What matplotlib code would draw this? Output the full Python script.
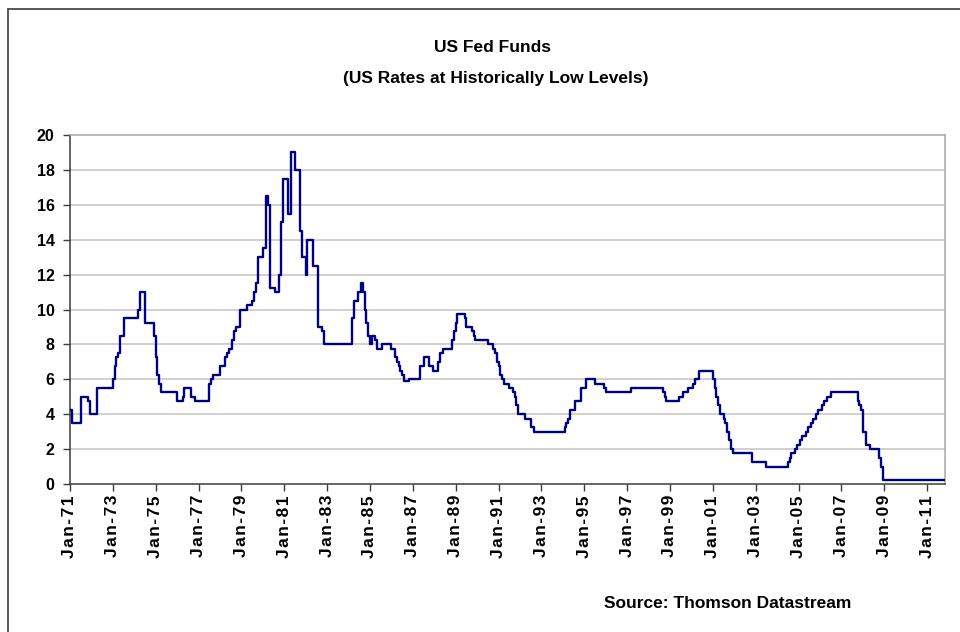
import matplotlib
matplotlib.use("Agg")
import matplotlib.pyplot as plt
from matplotlib.patches import Rectangle

# Fed funds rate: month of each change and the new level (%)
change_months = [
    "1971-01", "1971-02", "1971-07", "1971-11", "1971-12", "1972-04",
    "1973-01", "1973-02", "1973-03", "1973-04", "1973-05", "1973-07",
    "1974-03", "1974-04", "1974-07", "1974-12", "1975-01", "1975-02",
    "1975-03", "1975-04", "1976-01", "1976-04", "1976-05", "1976-09",
    "1976-11", "1977-07", "1977-08", "1977-09", "1978-01", "1978-04",
    "1978-05", "1978-06", "1978-08", "1978-09", "1978-10", "1978-12",
    "1979-04", "1979-07", "1979-08", "1979-09", "1979-10", "1980-01",
    "1980-03", "1980-04", "1980-05", "1980-08", "1980-10", "1980-11",
    "1980-12", "1981-03", "1981-05", "1981-07", "1981-10", "1981-11",
    "1982-01", "1982-02", "1982-05", "1982-08", "1982-10", "1982-11",
    "1984-03", "1984-04", "1984-06", "1984-08", "1984-09", "1984-10",
    "1984-11", "1984-12", "1985-01", "1985-02", "1985-04", "1985-05",
    "1985-08", "1986-01", "1986-03", "1986-04", "1986-05", "1986-06",
    "1986-07", "1986-08", "1986-11", "1987-05", "1987-07", "1987-10",
    "1987-12", "1988-03", "1988-04", "1988-06", "1988-11", "1988-12",
    "1989-01", "1989-02", "1989-06", "1989-07", "1989-10", "1989-11",
    "1989-12", "1990-07", "1990-10", "1990-11", "1990-12", "1991-01",
    "1991-02", "1991-03", "1991-04", "1991-07", "1991-09", "1991-10",
    "1991-11", "1991-12", "1992-04", "1992-07", "1992-09", "1994-02",
    "1994-03", "1994-04", "1994-05", "1994-08", "1994-11", "1995-02",
    "1995-07", "1995-12", "1996-01", "1997-03", "1998-09", "1998-10",
    "1998-11", "1999-06", "1999-08", "1999-11", "2000-02", "2000-03",
    "2000-05", "2001-01", "2001-02", "2001-03", "2001-04", "2001-05",
    "2001-07", "2001-08", "2001-09", "2001-10", "2001-11", "2001-12",
    "2002-11", "2003-07", "2004-07", "2004-08", "2004-09", "2004-11",
    "2004-12", "2005-02", "2005-03", "2005-05", "2005-06", "2005-08",
    "2005-09", "2005-11", "2005-12", "2006-02", "2006-03", "2006-05",
    "2006-07", "2007-10", "2007-11", "2007-12", "2008-01", "2008-03",
    "2008-05", "2008-10", "2008-11", "2008-12",
]
rates = [
    4.25, 3.5, 5.0, 4.75, 4.0, 5.5,
    6.0, 6.75, 7.25, 7.5, 8.5, 9.5,
    10.0, 11.0, 9.25, 8.5, 7.25, 6.25,
    5.75, 5.25, 4.75, 5.0, 5.5, 5.0,
    4.75, 5.75, 6.0, 6.25, 6.75, 7.25,
    7.5, 7.75, 8.25, 8.75, 9.0, 10.0,
    10.25, 10.5, 11.0, 11.5, 13.0, 13.5,
    16.5, 16.0, 11.25, 11.0, 12.0, 15.0,
    17.5, 15.5, 19.0, 18.0, 14.5, 13.0,
    12.0, 14.0, 12.5, 9.0, 8.75, 8.0,
    9.5, 10.5, 11.0, 11.5, 11.0, 10.0,
    9.25, 8.5, 8.0, 8.5, 8.25, 7.75,
    8.0, 7.75, 7.25, 7.0, 6.75, 6.5,
    6.25, 5.875, 6.0, 6.75, 7.25, 6.75,
    6.5, 7.0, 7.5, 7.75, 8.25, 8.75,
    9.25, 9.75, 9.5, 9.0, 8.75, 8.5,
    8.25, 8.0, 7.75, 7.5, 7.0, 6.75,
    6.25, 6.0, 5.75, 5.5, 5.25, 5.0,
    4.5, 4.0, 3.75, 3.25, 3.0, 3.25,
    3.5, 3.75, 4.25, 4.75, 5.5, 6.0,
    5.75, 5.5, 5.25, 5.5, 5.25, 5.0,
    4.75, 5.0, 5.25, 5.5, 5.75, 6.0,
    6.5, 6.0, 5.5, 5.0, 4.5, 4.0,
    3.75, 3.5, 3.0, 2.5, 2.0, 1.75,
    1.25, 1.0, 1.25, 1.5, 1.75, 2.0,
    2.25, 2.5, 2.75, 3.0, 3.25, 3.5,
    3.75, 4.0, 4.25, 4.5, 4.75, 5.0,
    5.25, 4.75, 4.5, 4.25, 3.0, 2.25,
    2.0, 1.5, 1.0, 0.25,
]
last_month = "2011-11"

tick_years = list(range(1971, 2012, 2))
tick_labels = [f"Jan-{y % 100:02d}" for y in tick_years]
y_ticks = list(range(0, 21, 2))

title_lines = ["US Fed Funds", "(US Rates at Historically Low Levels)"]
source_text = "Source: Thomson Datastream"


def to_year(s):
    y, m = s.split("-")
    return int(y) + (int(m) - 1) / 12.0


x_vals = [to_year(s) for s in change_months] + [to_year(last_month)]
y_vals = rates + [rates[-1]]

W, H = 960, 632
fig = plt.figure(figsize=(W / 100, H / 100), dpi=100)
fig.patch.set_facecolor("white")

# outer chart frame
fig.patches.append(Rectangle((8 / W, -0.1), 1.2, 1 - 9 / H + 0.1,
                             transform=fig.transFigure, fill=False,
                             edgecolor="#4a4a4a", lw=1.3))

left, right, top, bottom = 70, 945, 135, 484
ax = fig.add_axes([left / W, 1 - bottom / H, (right - left) / W, (bottom - top) / H])

ax.step(x_vals, y_vals, where="post", color="#000080", lw=1.7, zorder=3)

ax.set_xlim(x_vals[0], x_vals[-1])
ax.set_ylim(0, 20)

for v in y_ticks[1:-1]:
    ax.axhline(v, color="#c4c4c4", lw=1.1, zorder=1)

for side in ("left", "bottom"):
    ax.spines[side].set_color("#3c3c3c")
    ax.spines[side].set_linewidth(1.1)
for side in ("top", "right"):
    ax.spines[side].set_color("#a8a8a8")
    ax.spines[side].set_linewidth(1.1)

ax.set_yticks(y_ticks)
ax.set_yticklabels([str(v) for v in y_ticks], fontsize=11.5, fontweight="bold",
                   family=["Liberation Sans", "DejaVu Sans"])
ax.set_xticks(tick_years)
spaced = ["\u200a".join(lbl) for lbl in tick_labels]
ax.set_xticklabels(spaced, rotation=90, fontsize=12.5, fontweight="bold",
                   family=["Liberation Sans", "DejaVu Sans"])
ax.tick_params(axis="y", direction="out", length=5, width=1, color="#3c3c3c", pad=6)
ax.tick_params(axis="x", direction="out", length=5, width=1, color="#3c3c3c", pad=3)

narrow = ["Liberation Sans Narrow", "Liberation Sans", "DejaVu Sans"]
fig.text(493 / W, 1 - 47 / H, title_lines[0], ha="center", va="center",
         fontsize=12.5, fontweight="bold", family=narrow)
fig.text(496 / W, 1 - 79 / H, title_lines[1], ha="center", va="center",
         fontsize=12.5, fontweight="bold", family=narrow)
fig.text(728 / W, 1 - 604 / H, source_text, ha="center", va="center",
         fontsize=12.5, fontweight="bold", family=narrow)

fig.savefig("out.png", dpi=100, facecolor="white")
